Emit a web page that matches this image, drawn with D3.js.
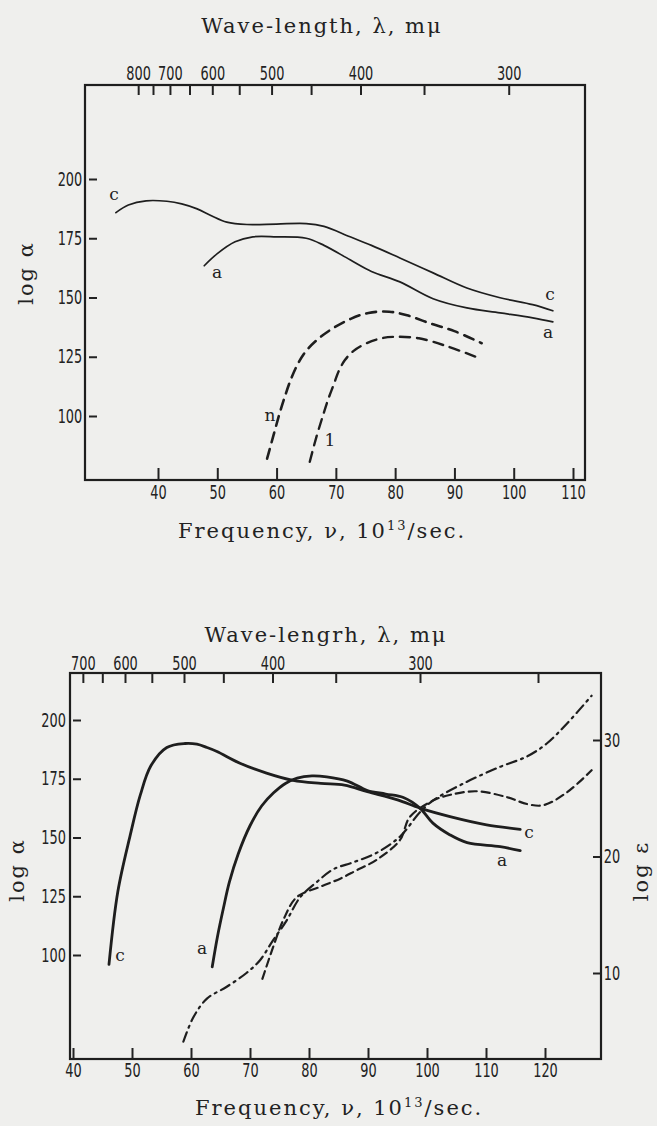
<!DOCTYPE html>
<html>
<head>
<meta charset="utf-8">
<script src="https://cdn.jsdelivr.net/npm/d3@7"></script>
<style>
  body { margin: 0; background: #efefed; }
  svg { display: block; }
  .tick text { font-family: "DejaVu Sans", sans-serif; font-size: 19px; fill: #222; }
  .tick line { stroke: #222; stroke-width: 2; }
  .title { font-family: "DejaVu Serif", serif; font-size: 21px; fill: #222; letter-spacing: 2px; }
  .lbl { font-family: "DejaVu Serif", serif; font-size: 17px; fill: #222; }
</style>
</head>
<body>
<div id="chart"></div>
<script>
// ---- top panel data (frequency in 10^13/sec, log alpha) ----
const topFreqTicks = [40, 50, 60, 70, 80, 90, 100, 110];
const topWaveTicks = [800, 750, 700, 650, 600, 550, 500, 450, 400, 350, 300];
const topWaveLabels = [800, 700, 600, 500, 400, 300];
const topLogTicks = [100, 125, 150, 175, 200];

const topC = [[32.9,185.8],[35,189],[38,190.8],[41.5,190.6],[44,189.5],[46.6,187.4],[49,184.5],[51.6,181.8],
  [55,180.8],[60,181],[65,181.2],[68,180],[72.4,175.6],[76,172],[80.8,166.7],[86.4,160.4],[92.1,154],
  [97.7,149.9],[103.2,147],[106.6,144.4]];
const topA = [[47.8,163.4],[50,168.5],[53,173.5],[56,175.6],[60,175.6],[65,175],[68,172],[72.4,165.9],
  [76,161],[80.8,156.6],[86.4,149.5],[92.1,145.6],[97.7,143.5],[103.2,141.4],[106.6,139.7]];
const topN = [[58.4,82],[59.5,92],[60.5,101],[61.5,109],[62.5,116],[63.7,122.5],[65,127.5],[67,132.5],
  [69.5,137],[72.5,141],[75.5,143.5],[79,144],[82,142.5],[86,139],[90,135.8],[94.6,130.7]];
const topI = [[65.6,80.7],[66.7,91],[67.8,100],[68.7,107],[69.6,113],[70.5,119],[71.5,123.5],[73,127.5],
  [75,130.5],[77.5,132.7],[80,133.4],[84,132.8],[88.9,129.3],[93.5,125.1]];

// ---- bottom panel data ----
const botFreqTicks = [40, 50, 60, 70, 80, 90, 100, 110, 120];
const botWaveTicks = [700, 650, 600, 550, 500, 450, 400, 350, 300, 250];
const botWaveLabels = [700, 600, 500, 400, 300];
const botLogTicks = [100, 125, 150, 175, 200];
const botEpsTicks = [10, 20, 30];

const botC = [[46.1,96],[47.6,127],[49.7,151],[51.4,168],[53.2,180.5],[55.9,188.3],[59,190],[61,189.7],
  [62.7,188.3],[64.4,186.6],[68.3,181.6],[72.8,177.4],[77.3,174.3],[82,173],[86,172.3],[89.9,169.5],
  [95,166],[98.8,162.5],[103.9,158.9],[110.1,155.4],[115.8,153.5]];
const botA = [[63.6,95],[64.5,108],[65.5,120],[66.5,131],[68,143],[70,155],[72,163.5],[74,169],[76,173],
  [78,175.3],[80.5,176.2],[83,175.8],[86.5,174],[89.9,170],[93,168.5],[96,167],[98.8,162.5],[101,156.1],
  [103.9,151.1],[106.8,147.8],[112.4,146.1],[115.8,144.4]];
// log epsilon curves (right axis)
const botDashDot = [[58.7,4.1],[60.4,6.2],[62.7,7.8],[66,8.8],[69.4,10],[71.7,11.1],[73.9,12.8],[76.2,14.5],
  [78.5,16.5],[81.3,17.8],[84.1,18.9],[87.5,19.5],[91.4,20.3],[95.4,21.7],[98.8,23.8],[101,24.8],
  [106.7,26.4],[112.4,27.7],[117,28.6],[120.3,29.7],[123.7,31.4],[127.9,33.8]];
const botDashed = [[72.1,9.5],[73.9,12.2],[75.6,14.5],[77.9,16.5],[81.9,17.4],[85.3,18.1],[88,18.8],
  [91.4,19.7],[95.4,21.4],[97.1,23.4],[101,24.8],[104,25.3],[108.4,25.6],[113.5,25.1],[117,24.5],
  [119.7,24.4],[123.7,25.5],[127.9,27.4]];

const toFreq = l => 30000 / l;   // wavelength (m\u03bc) -> 10^13/sec

const svg = d3.select("#chart").append("svg")
  .attr("width", 657).attr("height", 1126);

svg.append("rect").attr("width", 657).attr("height", 1126).attr("fill", "#efefed");

function drawLine(g, data, x, y, width, dash) {
  g.append("path")
    .datum(data)
    .attr("fill", "none")
    .attr("stroke", "#1e1e1e")
    .attr("stroke-width", width)
    .attr("stroke-dasharray", dash || null)
    .attr("stroke-linecap", "round")
    .attr("d", d3.line().x(d => x(d[0])).y(d => y(d[1])).curve(d3.curveCatmullRom.alpha(0.5)));
}

function label(txt, x, y, anchor) {
  svg.append("text").attr("class", "lbl").attr("x", x).attr("y", y)
    .attr("text-anchor", anchor || "middle").text(txt);
}

// drop the axis line (the frame is drawn separately) and narrow the digits
function cleanAxis(g) {
  g.select(".domain").remove();
  g.selectAll(".tick text").attr("transform", "scale(0.68,1)");
}

// ================= TOP PANEL =================
const t = { left: 85, right: 585, top: 85, bottom: 480 };
const xT = d3.scaleLinear().domain([40, 110]).range([158, 573]);
const xTw = d3.scaleLinear().domain([40, 110]).range([153, 568]); // top edge, scan is slightly skewed
const yT = d3.scaleLinear().domain([100, 200]).range([416, 179]);

svg.append("rect")
  .attr("x", t.left).attr("y", t.top)
  .attr("width", t.right - t.left).attr("height", t.bottom - t.top)
  .attr("fill", "none").attr("stroke", "#1e1e1e").attr("stroke-width", 2.2);

svg.append("g").attr("transform", `translate(0,${t.bottom})`)
  .call(d3.axisBottom(xT).tickValues(topFreqTicks).tickSize(-12).tickPadding(6))
  .call(cleanAxis);

svg.append("g").attr("transform", `translate(0,${t.top})`)
  .call(d3.axisTop(xTw).tickValues(topWaveTicks.map(toFreq)).tickSize(-10).tickPadding(5)
    .tickFormat(v => { const l = Math.round(30000 / v); return topWaveLabels.includes(l) ? l : ""; }))
  .call(cleanAxis);

svg.append("g").attr("transform", `translate(${t.left},0)`)
  .call(d3.axisLeft(yT).tickValues(topLogTicks).tickSize(-8).tickPadding(4))
  .call(cleanAxis)
  .selectAll(".tick line").attr("transform", "translate(4,0)");

drawLine(svg, topC, xT, yT, 1.7);
drawLine(svg, topA, xT, yT, 1.7);
drawLine(svg, topN, xT, yT, 2.6, "10,7");
drawLine(svg, topI, xT, yT, 2.4, "10,7");

label("c", 114, 200);
label("a", 217, 278);
label("c", 550, 300);
label("a", 548, 338);
label("n", 270, 421);
label("1", 330, 446);

svg.append("text").attr("class", "title").attr("x", 322).attr("y", 33)
  .attr("text-anchor", "middle").text("Wave-length, \u03bb, m\u03bc");

const ft = svg.append("text").attr("class", "title").attr("x", 178).attr("y", 538);
ft.append("tspan").text("Frequency, \u03bd, 10");
ft.append("tspan").attr("dy", -8).attr("font-size", 13).text("13");
ft.append("tspan").attr("dy", 8).text("/sec.");

svg.append("text").attr("class", "title")
  .attr("transform", "translate(33,273) rotate(-90)")
  .attr("text-anchor", "middle").text("log \u03b1");

// ================= BOTTOM PANEL =================
const b = { left: 70, right: 601, top: 673, bottom: 1059 };
const xB = d3.scaleLinear().domain([40, 120]).range([73, 545]);
const xBw = d3.scaleLinear().domain([40, 120]).range([66, 538]);
const yB = d3.scaleLinear().domain([100, 200]).range([955, 720]);
const yE = d3.scaleLinear().domain([10, 30]).range([973, 740]);

svg.append("rect")
  .attr("x", b.left).attr("y", b.top)
  .attr("width", b.right - b.left).attr("height", b.bottom - b.top)
  .attr("fill", "none").attr("stroke", "#1e1e1e").attr("stroke-width", 2.2);

svg.append("g").attr("transform", `translate(0,${b.bottom})`)
  .call(d3.axisBottom(xB).tickValues(botFreqTicks).tickSize(-11).tickPadding(5))
  .call(cleanAxis);

svg.append("g").attr("transform", `translate(0,${b.top})`)
  .call(d3.axisTop(xBw).tickValues(botWaveTicks.map(toFreq)).tickSize(-10).tickPadding(3)
    .tickFormat(v => { const l = Math.round(30000 / v); return botWaveLabels.includes(l) ? l : ""; }))
  .call(cleanAxis);

svg.append("g").attr("transform", `translate(${b.left},0)`)
  .call(d3.axisLeft(yB).tickValues(botLogTicks).tickSize(-8).tickPadding(6))
  .call(cleanAxis)
  .selectAll(".tick line").attr("transform", "translate(3,0)");

svg.append("g").attr("transform", `translate(${b.right},0)`)
  .call(d3.axisRight(yE).tickValues(botEpsTicks).tickSize(-8).tickPadding(4))
  .call(cleanAxis);

drawLine(svg, botC, xB, yB, 2.8);
drawLine(svg, botA, xB, yB, 2.8);
drawLine(svg, botDashDot, xB, yE, 2.2, "10,5,2,5");
drawLine(svg, botDashed, xB, yE, 2.2, "8,5");

label("c", 120, 961);
label("a", 202, 954);
label("c", 529, 838);
label("a", 502, 866);

svg.append("text").attr("class", "title").attr("x", 326).attr("y", 642)
  .attr("text-anchor", "middle").text("Wave-lengrh, \u03bb, m\u03bc");

const fb = svg.append("text").attr("class", "title").attr("x", 195).attr("y", 1115);
fb.append("tspan").text("Frequency, \u03bd, 10");
fb.append("tspan").attr("dy", -8).attr("font-size", 13).text("13");
fb.append("tspan").attr("dy", 8).text("/sec.");

svg.append("text").attr("class", "title")
  .attr("transform", "translate(24,870) rotate(-90)")
  .attr("text-anchor", "middle").text("log \u03b1");

svg.append("text").attr("class", "title")
  .attr("transform", "translate(648,871) rotate(-90)")
  .attr("text-anchor", "middle").text("log \u03b5");
</script>
</body>
</html>
